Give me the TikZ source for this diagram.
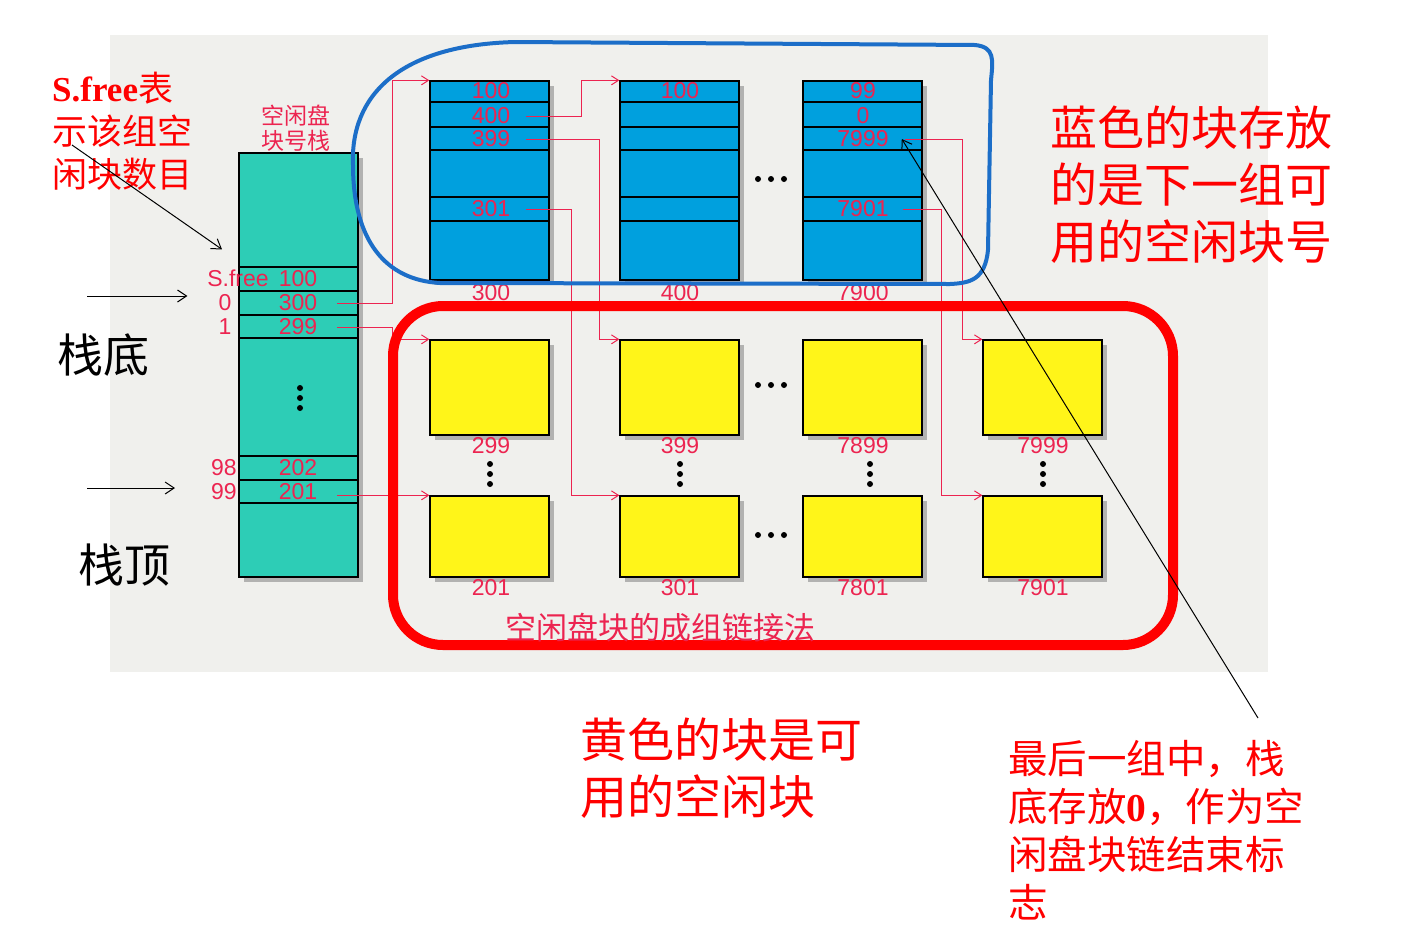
\documentclass[tikz,border=0pt]{standalone}
\usepackage{fontspec}
\setmainfont{Liberation Serif}
\setsansfont{Liberation Sans}
\newfontfamily\cjk{Noto Sans CJK SC}
\usepackage{xcolor}
\usetikzlibrary{positioning,calc,shadows,arrows.meta}

\definecolor{stackteal}{RGB}{45,205,182}
\definecolor{blockblue}{RGB}{0,160,222}
\definecolor{blockyellow}{RGB}{255,245,25}
\definecolor{labelpink}{RGB}{236,36,80}
\definecolor{loopblue}{RGB}{28,110,200}
\definecolor{paper}{RGB}{240,240,237}

\tikzset{
  blk/.style={draw, line width=1.3pt, inner sep=0pt, minimum width=119pt,
    drop shadow={shadow xshift=5pt, shadow yshift=-5pt, opacity=.55}},
  stackbox/.style={blk, fill=stackteal, minimum height=424pt},
  bluebox/.style={blk, fill=blockblue, minimum height=199pt},
  yellowbox/.style={blk, fill=blockyellow},
  num/.style={text=labelpink, font=\sffamily\fontsize{23}{23}\selectfont, inner sep=0pt},
  link/.style={draw=labelpink, line width=1pt, -{Straight Barb[length=7pt,width=9pt]}},
  pointer/.style={line width=1pt, -{Straight Barb[length=9pt,width=12pt]}},
  note/.style={text=red, font=\cjk\fontsize{47}{57}\selectfont, align=left, inner sep=0pt, anchor=west}
}

\begin{document}
\begin{tikzpicture}[x=1pt,y=-1pt]
    \useasboundingbox (0,0) rectangle (1416,930);
    % Paper
    \fill[paper] (110,35) rectangle (1268,672);

    % Stack of free block numbers
    \node[stackbox] (stk) at (298.5,365) {};
    \foreach \y in {267,291,315,338,456,480,503}
        \draw[line width=1.3pt] (239,\y) -- ++(119,0);
    \node[num, font=\cjk\fontsize{23}{25}\selectfont, align=center] (stkhead) at (296,128) {空闲盘\\块号栈};
    \node[num] (sfree) at (238,278) {S.free};
    \node[num] (v100) at (298,279) {100};
    \node[num] (idx0) at (225,303) {0};
    \node[num] (v300) at (298,303) {300};
    \node[num] (idx1) at (225,327) {1};
    \node[num] (v299) at (298,327) {299};
    \node[num] (idx98) at (224,468) {98};
    \node[num] (v202) at (298,468) {202};
    \node[num] (idx99) at (224,492) {99};
    \node[num] (v201) at (298,492) {201};
    \foreach \y in {388,398,408}
        \fill (300,\y) circle (3pt);

    % Blue blocks (next group)
    \node[bluebox] (b1) at (489.5,180.5) {};
    \node[bluebox] (b2) at (679.5,180.5) {};
    \node[bluebox] (b3) at (862.5,180.5) {};
    \foreach \x in {430,620,803}
        \foreach \y in {102,127,150,197,221}
            \draw[line width=1.3pt] (\x,\y) -- ++(119,0);
    \node[num] (n100) at (491,91) {100};
    \node[num] (n400) at (491,116) {400};
    \node[num] (n399) at (491,139) {399};
    \node[num] (n301) at (491,209) {301};
    \node[num] (m100) at (680,91) {100};
    \node[num] (k99) at (863,91) {99};
    \node[num] (k0) at (863,116) {0};
    \node[num] (n7999) at (863,139) {7999};
    \node[num] (n7901) at (863,209) {7901};
    \node[num] (t300) at (491,293) {300};
    \node[num] (t400) at (680,293) {400};
    \node[num] (t7900) at (863,293) {7900};

    % Yellow blocks (free blocks)
    \foreach \x/\c in {489.5/1,679.5/2,862.5/3,1042.5/4} {
        \node[yellowbox, minimum height=95pt] (y1\c) at (\x,387.5) {};
        \node[yellowbox, minimum height=81pt] (y2\c) at (\x,536.5) {};
    }
    \foreach \x/\ua/\ub in {491/299/201, 680/399/301, 863/7899/7801, 1043/7999/7901} {
        \node[num] (up\ua) at (\x,446) {\ua};
        \node[num] (dn\ub) at (\x,588) {\ub};
    }
    \foreach \x in {490,680,870,1043}
        \foreach \y in {464,474,484}
            \fill (\x,\y) circle (3pt);
    \foreach \y in {179,385,535}
        \foreach \x in {758,771,784}
            \fill (\x,\y) circle (3pt);

    % Links
    \draw[link] ($(v300.east)+(20,0)$) -| ($(b1.north west)+(-37,0)$) -- (b1.north west);
    \draw[link] ($(v299.east)+(20,0)$) -| ($(y11.north west)+(-37,0)$) -- (y11.north west);
    \draw[link] ($(y21.north west -| v201.east)+(20,0)$) -- (y21.north west);
    \draw[link] ($(n400.east)+(16,0)$) -| ($(b2.north west)+(-38,0)$) -- (b2.north west);
    \draw[link] ($(n399.east)+(16,0)$) -| ($(y12.north west)+(-20,0)$) -- (y12.north west);
    \draw[link] ($(n301.east)+(16,0)$) -| ($(y22.north west)+(-48,0)$) -- (y22.north west);
    \draw[link] ($(n7999.east)+(16,0)$) -| ($(y14.north west)+(-20,0)$) -- (y14.north west);
    \draw[link] ($(n7901.east)+(14,0)$) -| ($(y24.north west)+(-41,0)$) -- (y24.north west);

    % Group frames
    \draw[loopblue, line width=4pt] (515,42) -- (975,45) .. controls (995,47) and (993,60) .. (991,80)
        -- (988,250) .. controls (985,280) and (970,283) .. (950,284) -- (440,283)
        .. controls (385,280) and (353,240) .. (353,165) .. controls (350,95) and (400,45) .. (515,42) -- cycle;
    \draw[red, line width=10pt, rounded corners=50pt] (393,306) rectangle (1173,645);
    \node[num, font=\cjk\fontsize{31}{31}\selectfont] (grpcap) at (660,628) {空闲盘块的成组链接法};

    % Notes
    \node[note, font=\cjk\fontsize{35}{43}\selectfont] (freenote) at (52,131)
        {{\rmfamily\bfseries S.free}表\\示该组空\\闲块数目};
    \node[note, text=black, font=\cjk\fontsize{46}{46}\selectfont] (bottomnote) at (57,355) {栈底};
    \node[note, text=black, font=\cjk\fontsize{46}{46}\selectfont] (topnote) at (78,565) {栈顶};
    \node[note] (bluenote) at (1050,185) {蓝色的块存放\\的是下一组可\\用的空闲块号};
    \node[note] (yellownote) at (580,768) {黄色的块是可\\用的空闲块};
    \node[note, font=\cjk\fontsize{39.5}{48}\selectfont] (lastnote) at (1008,830)
        {最后一组中，栈\\底存放{\rmfamily\bfseries 0}，作为空\\闲盘块链结束标\\志};

    % Pointers
    \coordinate (freeptr) at (72,145);
    \coordinate (bottomptr) at (87,296);
    \coordinate (topptr) at (87,488);
    \coordinate (lastptr) at (1258,718);
    \draw[pointer] (freeptr) -- ($(sfree.north)+(-16,-20)$);
    \draw[pointer] (bottomptr) -- ($(idx0.west)+(-31,-7)$);
    \draw[pointer] (topptr) -- ($(idx99.west)+(-36,-4)$);
    \draw[pointer] (lastptr) -- ($(n7999.east)+(13,0)$);
\end{tikzpicture}
\end{document}
